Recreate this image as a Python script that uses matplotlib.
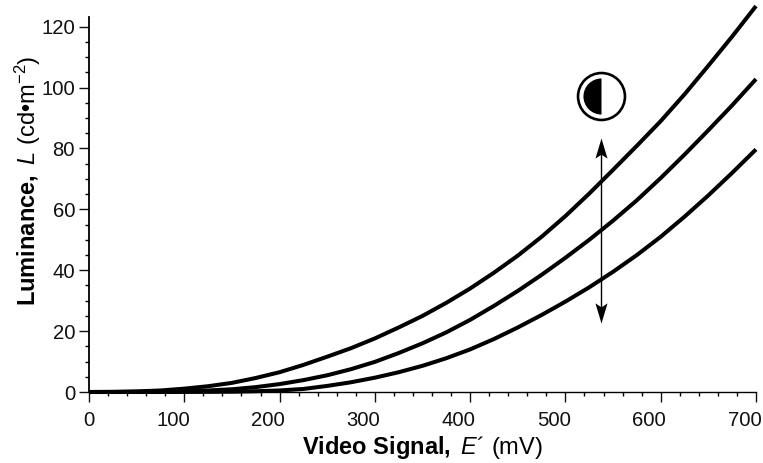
#!/usr/bin/env python3
import matplotlib
matplotlib.use('Agg')
import matplotlib.pyplot as plt
from matplotlib.path import Path
from matplotlib.ticker import MultipleLocator
from matplotlib.transforms import ScaledTranslation

plt.rcParams['font.family'] = ['Liberation Sans', 'DejaVu Sans']
plt.rcParams['mathtext.fontset'] = 'custom'
plt.rcParams['mathtext.rm'] = 'Liberation Sans'
plt.rcParams['mathtext.it'] = 'Liberation Sans:italic'
plt.rcParams['mathtext.bf'] = 'Liberation Sans:bold'
plt.rcParams['mathtext.default'] = 'regular'

signal = [0, 25, 50, 75, 100, 125, 150, 175, 200, 225, 250, 275, 300, 325, 350,
          375, 400, 425, 450, 475, 500, 525, 550, 575, 600, 625, 650, 675, 700]
lum_high = [0, 0.05, 0.2, 0.5, 1.1, 1.9, 3.0, 4.6, 6.5, 8.9, 11.6, 14.4, 17.6, 21.2, 25.0,
            29.3, 34.0, 39.2, 44.8, 51.0, 57.8, 65.2, 73.0, 80.9, 89.0, 97.8, 107.2, 116.8, 126.8]
lum_mid = [0, 0, 0.05, 0.15, 0.3, 0.5, 0.9, 1.6, 2.6, 3.9, 5.5, 7.5, 9.9, 12.8, 16.0,
           19.6, 23.7, 28.3, 33.2, 38.5, 44.1, 50.0, 56.3, 63.0, 70.3, 78.0, 86.0, 94.2, 102.8]
lum_low = [0, 0, 0, 0, 0.02, 0.05, 0.1, 0.25, 0.5, 1.0, 2.0, 3.2, 4.7, 6.5, 8.6,
           11.1, 14.0, 17.4, 21.2, 25.3, 29.7, 34.4, 39.5, 45.0, 51.0, 57.6, 64.6, 72.0, 79.7]

arrow_x = 537.3
arrow_top = 83.4
arrow_bottom = 22.7
symbol_x = 537.5
symbol_y = 97.3

fig = plt.figure(figsize=(7.63, 4.63), dpi=100)
ax = fig.add_axes([89 / 763, 71 / 463, 667 / 763, 375 / 463])

for lum in [lum_high, lum_mid, lum_low]:
    ax.plot(signal, lum, color='black', lw=2.9, clip_on=False, solid_capstyle='butt', zorder=3)

ax.set_xlim(0, 700)
ax.set_ylim(0, 123.2)

for side in ['top', 'right']:
    ax.spines[side].set_visible(False)
ax.spines['left'].set_linewidth(1.3)
ax.spines['bottom'].set_linewidth(1.0)

ax.xaxis.set_major_locator(MultipleLocator(100))
ax.xaxis.set_minor_locator(MultipleLocator(20))
ax.yaxis.set_major_locator(MultipleLocator(20))
ax.yaxis.set_minor_locator(MultipleLocator(5))
ax.tick_params(which='major', length=7, width=1.0, labelsize=14.6, pad=3, colors='#111111')
ax.tick_params(which='minor', length=3.2, width=1.0)
ax.tick_params(axis='x', pad=7)

# x tick labels sit right aligned, a bit past the tick
shift = ScaledTranslation(5.5 / 72 * 0.72, 0, fig.dpi_scale_trans)
for lab in ax.get_xticklabels():
    lab.set_ha('right')
    lab.set_transform(lab.get_transform() + shift)

ax.set_xlabel(r"$\mathbf{Video\ Signal,}$ $\mathit{E}$´ (mV)", fontsize=17, labelpad=2.5)
ax.set_ylabel(r"$\mathbf{Luminance,}$ $\mathit{L}$ (cd•m$^{-2}$)", fontsize=17, labelpad=-1, y=211 / 375)

# double arrow
head_up = Path([(0, 0), (0.3, -1), (0, -0.8), (-0.3, -1), (0, 0)], closed=True)
head_down = Path([(0, 0), (0.3, 1), (0, 0.8), (-0.3, 1), (0, 0)], closed=True)
ax.plot([arrow_x, arrow_x], [arrow_bottom + 3, arrow_top - 3], color='black', lw=1.0, zorder=4)
ax.plot([arrow_x], [arrow_top], marker=head_up, ms=29, mfc='black', mec='none', zorder=4)
ax.plot([arrow_x], [arrow_bottom], marker=head_down, ms=29, mfc='black', mec='none', zorder=4)

# half filled symbol
ax.plot([symbol_x], [symbol_y], marker='o', ms=33.8, mfc='white', mec='black', mew=1.9, clip_on=False)
ax.plot([symbol_x], [symbol_y], marker='o', ms=26, fillstyle='left', mfc='black', mec='none',
        markerfacecoloralt='none', mew=0, clip_on=False)

fig.savefig('out.png', dpi=100)
